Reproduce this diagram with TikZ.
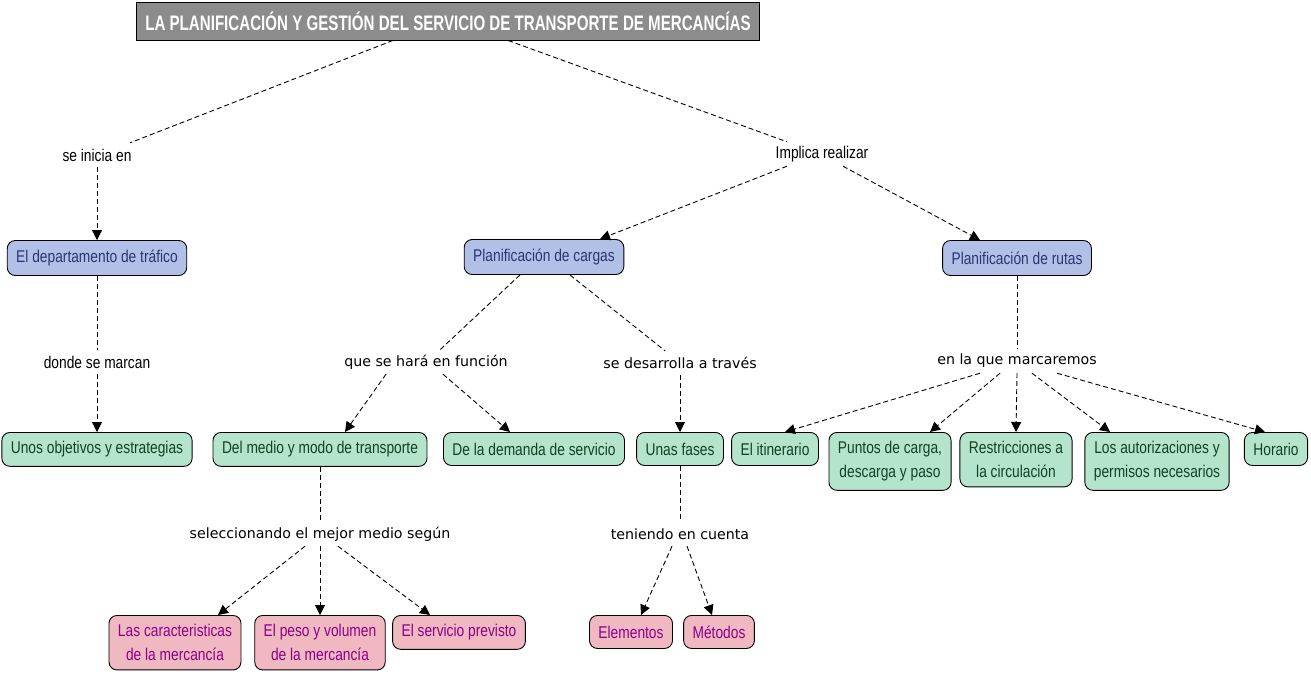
\documentclass[tikz,border=0pt]{standalone}
\usepackage{fontspec}
\usepackage{tikz}
\usetikzlibrary{arrows.meta}
\newfontfamily\narrowfont{Liberation Sans}[FakeStretch=0.81]
\newfontfamily\headfont{Liberation Sans}[FakeStretch=0.72]
\newfontfamily\linkfont{DejaVu Sans}
\definecolor{headgray}{RGB}{140,140,140}
\definecolor{bluefill}{RGB}{178,192,232}
\definecolor{bluetext}{RGB}{40,55,115}
\definecolor{greenfill}{RGB}{180,228,204}
\definecolor{greentext}{RGB}{20,65,35}
\definecolor{pinkfill}{RGB}{240,184,192}
\definecolor{pinktext}{RGB}{140,0,140}

\begin{document}
\begin{tikzpicture}[x=1pt, y=-1pt,
    concept/.style={draw, line width=0.9pt, rounded corners=8pt, align=center,
        inner xsep=9pt, inner ysep=9pt, minimum height=33pt,
        font=\narrowfont\fontsize{17}{24}\selectfont},
    bluebox/.style={concept, fill=bluefill, text=bluetext, minimum height=35pt},
    greenbox/.style={concept, fill=greenfill, text=greentext, anchor=north},
    pinkbox/.style={concept, fill=pinkfill, text=pinktext, anchor=north},
    narrowlink/.style={inner sep=0pt, minimum height=24pt, font=\narrowfont\fontsize{17}{20}\selectfont},
    widelink/.style={inner sep=0pt, minimum height=24pt, font=\linkfont\fontsize{14.2}{17}\selectfont},
    link/.style={line width=0.9pt, dash pattern=on 5pt off 3pt},
    arrowlink/.style={link, -{Triangle[length=10pt, width=10pt]}}]

    \useasboundingbox (0,0) rectangle (1311,673);

    % title
    \node[draw, line width=0.9pt, fill=headgray, text=white, minimum height=38pt,
        inner xsep=9pt, font=\headfont\bfseries\fontsize{21}{24}\selectfont]
        (title) at (448,21) {LA PLANIFICACIÓN Y GESTIÓN DEL SERVICIO DE TRANSPORTE DE MERCANCÍAS};

    % first level
    \node[narrowlink] (inicia) at (97,155) {se inicia en};
    \node[narrowlink] (implica) at (822,154) {Implica realizar};
    \node[bluebox] (trafico) at (97,258) {El departamento de tráfico};
    \node[bluebox] (cargas) at (544,257) {Planificación de cargas};
    \node[bluebox] (rutas) at (1017,258) {Planificación de rutas};

    % second level
    \node[narrowlink] (marcan) at (97,362) {donde se marcan};
    \node[widelink] (funcion) at (426,362) {que se hará en función};
    \node[widelink] (desarrolla) at (680,363) {se desarrolla a través};
    \node[widelink] (marcaremos) at (1017,361) {en la que marcaremos};

    \node[greenbox] (objetivos) at (97,432) {Unos objetivos y estrategias};
    \node[greenbox] (medio) at (320,432) {Del medio y modo de transporte};
    \node[greenbox] (demanda) at (534,432) {De la demanda de servicio};
    \node[greenbox] (fases) at (680,432) {Unas fases};
    \node[greenbox] (itinerario) at (775,432) {El itinerario};
    \node[greenbox] (puntos) at (890,432) {Puntos de carga,\\descarga y paso};
    \node[greenbox] (restricciones) at (1016,432) {Restricciones a\\la circulación};
    \node[greenbox] (permisos) at (1157,432) {Los autorizaciones y\\permisos necesarios};
    \node[greenbox] (horario) at (1276,432) {Horario};

    % third level
    \node[widelink] (segun) at (320,534) {seleccionando el mejor medio según};
    \node[widelink] (cuenta) at (680,534) {teniendo en cuenta};

    \node[pinkbox] (caracteristicas) at (175,615) {Las caracteristicas\\de la mercancía};
    \node[pinkbox] (peso) at (320,615) {El peso y volumen\\de la mercancía};
    \node[pinkbox] (servicio) at (459,615) {El servicio previsto};
    \node[pinkbox] (elementos) at (631,615) {Elementos};
    \node[pinkbox] (metodos) at (719,615) {Métodos};

    % connectors
    \draw[link] ([xshift=-55pt]title.south) -- ([xshift=33pt]inicia.north);
    \draw[link] ([xshift=60pt]title.south) -- ([xshift=-35pt]implica.north);
    \draw[arrowlink] (inicia.south) -- (trafico.north);
    \draw[arrowlink] ([xshift=-35pt]implica.south) -- ([xshift=56pt]cargas.north);
    \draw[arrowlink] ([xshift=21pt]implica.south) -- ([xshift=-37pt]rutas.north);

    \draw[link] (trafico.south) -- (marcan.north);
    \draw[arrowlink] (marcan.south) -- (objetivos.north);
    \draw[link] ([xshift=-24pt]cargas.south) -- ([xshift=14pt]funcion.north);
    \draw[link] ([xshift=26pt]cargas.south) -- ([xshift=-15pt]desarrolla.north);
    \draw[arrowlink] ([xshift=-40pt]funcion.south) -- ([xshift=25pt]medio.north);
    \draw[arrowlink] ([xshift=17pt]funcion.south) -- ([xshift=-24pt]demanda.north);
    \draw[arrowlink] (desarrolla.south) -- (fases.north);
    \draw[link] (rutas.south) -- (marcaremos.north);
    \draw[arrowlink] ([xshift=-37pt]marcaremos.south) -- ([xshift=10pt]itinerario.north);
    \draw[arrowlink] ([xshift=-17pt]marcaremos.south) -- ([xshift=40pt]puntos.north);
    \draw[arrowlink] (marcaremos.south) -- (restricciones.north);
    \draw[arrowlink] ([xshift=15pt]marcaremos.south) -- ([xshift=-47pt]permisos.north);
    \draw[arrowlink] ([xshift=40pt]marcaremos.south) -- ([xshift=-11pt]horario.north);

    \draw[link] (medio.south) -- (segun.north);
    \draw[arrowlink] ([xshift=-15pt]segun.south) -- ([xshift=43pt]caracteristicas.north);
    \draw[arrowlink] (segun.south) -- (peso.north);
    \draw[arrowlink] ([xshift=18pt]segun.south) -- ([xshift=-29pt]servicio.north);
    \draw[link] (fases.south) -- (cuenta.north);
    \draw[arrowlink] ([xshift=-8pt]cuenta.south) -- ([xshift=10pt]elementos.north);
    \draw[arrowlink] ([xshift=7pt]cuenta.south) -- ([xshift=-7pt]metodos.north);
\end{tikzpicture}
\end{document}
